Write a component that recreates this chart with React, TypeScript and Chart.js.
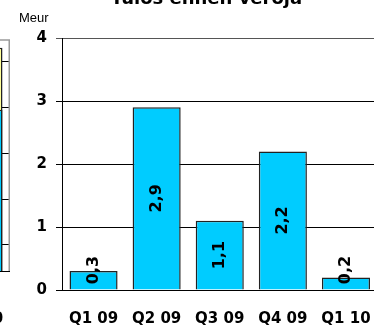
import React, { useEffect, useRef } from 'react';
import { Chart, registerables } from 'chart.js';

Chart.register(...registerables);

// Pre-tax profit by quarter (Meur)
const quarters = ['Q1 09', 'Q2 09', 'Q3 09', 'Q4 09', 'Q1 10'];
const profitBeforeTax = [0.3, 2.9, 1.1, 2.2, 0.2];
const yTicks = [0, 1, 2, 3, 4];
const titleText = 'Tulos ennen veroja';
const unitText = 'Meur';

// Neighbouring stacked chart, of which only the last column is in view
const sideAxisMin = -0.57;
const sideAxisMax = 4.47;
const sideGridValues = [0, 1, 2, 3, 4];
const sideLower = [null, null, null, null, 2.95];
const sideUpper = [null, null, null, null, 1.35];

const BOLD_FONT = '"DejaVu Sans", Verdana, sans-serif';
const PLAIN_FONT = '"Liberation Sans", Arial, sans-serif';
const CYAN = '#00CCFF';
const PALE_YELLOW = '#FFFF99';
const EDGE = '#222222';

const fmt = (v: number) => v.toFixed(1).replace('.', ',');

// Rotated value labels, centred in each bar but kept clear of the baseline
const valueLabels = {
  id: 'valueLabels',
  afterDatasetsDraw(chart: any) {
    const { ctx } = chart;
    const meta = chart.getDatasetMeta(0);
    const values = chart.data.datasets[0].data as number[];
    ctx.save();
    ctx.font = `bold 16px ${BOLD_FONT}`;
    ctx.fillStyle = '#000';
    ctx.textAlign = 'center';
    ctx.textBaseline = 'middle';
    meta.data.forEach((bar: any, i: number) => {
      const { x, y, base } = bar.getProps(['x', 'y', 'base'], true);
      const cy = Math.min((y + base) / 2, base - 19.5);
      ctx.save();
      ctx.translate(x, cy);
      ctx.rotate(-Math.PI / 2);
      ctx.fillText(fmt(values[i]), 0, 0);
      ctx.restore();
    });
    ctx.restore();
  },
};

// Unit caption above the value axis
const unitCaption = {
  id: 'unitCaption',
  afterDraw(chart: any) {
    const { ctx, chartArea } = chart;
    ctx.save();
    ctx.font = `13px ${PLAIN_FONT}`;
    ctx.fillStyle = '#000';
    ctx.textAlign = 'left';
    ctx.textBaseline = 'alphabetic';
    ctx.fillText(unitText, chartArea.left - 43, chartArea.top - 16);
    ctx.restore();
  },
};

// Grey frame on the top and right of the plot area
const plotFrame = {
  id: 'plotFrame',
  afterDraw(chart: any) {
    const { ctx, chartArea } = chart;
    ctx.save();
    ctx.strokeStyle = '#9a9a9a';
    ctx.lineWidth = 1.5;
    ctx.beginPath();
    ctx.moveTo(chartArea.left, chartArea.top);
    ctx.lineTo(chartArea.right - 0.75, chartArea.top);
    ctx.lineTo(chartArea.right - 0.75, chartArea.bottom);
    ctx.stroke();
    ctx.restore();
  },
};

// Fixed-height category axis that never shrinks the plot for label overhang
const fixedAxis = (h: number) => (s: any) => {
  s.height = h;
  s.paddingLeft = 0;
  s.paddingRight = 0;
};

function ProfitChart() {
  const ref = useRef<HTMLCanvasElement>(null);
  useEffect(() => {
    if (!ref.current) return;
    const chart = new Chart(ref.current, {
      type: 'bar',
      data: {
        labels: quarters,
        datasets: [
          {
            data: profitBeforeTax,
            backgroundColor: CYAN,
            borderColor: EDGE,
            borderWidth: 1.5,
            categoryPercentage: 1,
            barPercentage: 0.762,
          },
        ],
      },
      options: {
        animation: false,
        responsive: false,
        maintainAspectRatio: false,
        devicePixelRatio: 1,
        layout: { padding: { left: 35.5, right: 12.5, top: 0, bottom: 0 } },
        plugins: {
          legend: { display: false },
          tooltip: { enabled: false },
          title: {
            display: true,
            text: titleText,
            color: '#000',
            font: { family: BOLD_FONT, size: 18, weight: 'bold' },
            padding: { top: 9, bottom: 27.4 },
          },
        },
        scales: {
          x: {
            grid: { display: false, drawTicks: false },
            border: { display: false },
            ticks: {
              color: '#000',
              font: { family: BOLD_FONT, size: 15, weight: 'bold' },
              padding: 20,
              maxRotation: 0,
              autoSkip: false,
            },
            afterFit: fixedAxis(36),
          },
          y: {
            min: yTicks[0],
            max: yTicks[yTicks.length - 1],
            ticks: {
              stepSize: 1,
              color: '#000',
              font: { family: BOLD_FONT, size: 15, weight: 'bold' },
              padding: 9,
            },
            grid: {
              color: (c: any) => (c.tick && c.tick.value === yTicks[yTicks.length - 1] ? '#555' : '#000'),
              lineWidth: 1,
              tickLength: 6,
            },
            border: { color: '#000', width: 1 },
            afterFit: (s: any) => {
              s.width = 26.5;
            },
          },
        },
      },
      plugins: [valueLabels, unitCaption],
    } as any);
    return () => chart.destroy();
  }, []);
  return (
    <canvas
      ref={ref}
      width={390}
      height={346}
      style={{ position: 'absolute', left: 0, top: -20, width: 390, height: 346 }}
    />
  );
}

function SideChart() {
  const ref = useRef<HTMLCanvasElement>(null);
  useEffect(() => {
    if (!ref.current) return;
    const chart = new Chart(ref.current, {
      type: 'bar',
      data: {
        labels: quarters,
        datasets: [
          {
            data: sideLower,
            backgroundColor: CYAN,
            borderColor: EDGE,
            borderWidth: 1.5,
            categoryPercentage: 1,
            barPercentage: 0.762,
            base: sideAxisMin,
          },
          {
            data: sideUpper,
            backgroundColor: PALE_YELLOW,
            borderColor: EDGE,
            borderWidth: 1.5,
            categoryPercentage: 1,
            barPercentage: 0.762,
            base: sideAxisMin,
          },
        ],
      },
      options: {
        animation: false,
        responsive: false,
        maintainAspectRatio: false,
        devicePixelRatio: 1,
        layout: { padding: { left: 95, right: 0, top: 60, bottom: 0 } },
        plugins: {
          legend: { display: false },
          tooltip: { enabled: false },
          title: { display: false },
        },
        scales: {
          x: {
            stacked: true,
            grid: { display: true, drawOnChartArea: false, drawTicks: true, tickLength: 5, color: '#000', offset: true },
            border: { display: true, color: '#000', width: 1 },
            ticks: {
              color: '#000',
              font: { family: BOLD_FONT, size: 15, weight: 'bold' },
              padding: 34,
              maxRotation: 0,
              autoSkip: false,
            },
            afterFit: fixedAxis(55),
          },
          y: {
            stacked: true,
            min: sideAxisMin,
            max: sideAxisMax,
            afterBuildTicks: (s: any) => {
              s.ticks = sideGridValues.map((v) => ({ value: v }));
            },
            ticks: { display: false },
            grid: { color: '#000', lineWidth: 1, drawTicks: false },
            border: { display: false },
            afterFit: (s: any) => {
              s.width = 0;
            },
          },
        },
      },
      plugins: [plotFrame],
    } as any);
    return () => chart.destroy();
  }, []);
  return (
    <canvas
      ref={ref}
      width={410}
      height={346}
      style={{ position: 'absolute', left: -400, top: -20, width: 410, height: 346 }}
    />
  );
}

export default function App() {
  return (
    <div
      style={{
        position: 'fixed',
        left: 0,
        top: 0,
        width: 374,
        height: 326,
        overflow: 'hidden',
        background: '#fff',
      }}
    >
      <SideChart />
      <ProfitChart />
    </div>
  );
}
